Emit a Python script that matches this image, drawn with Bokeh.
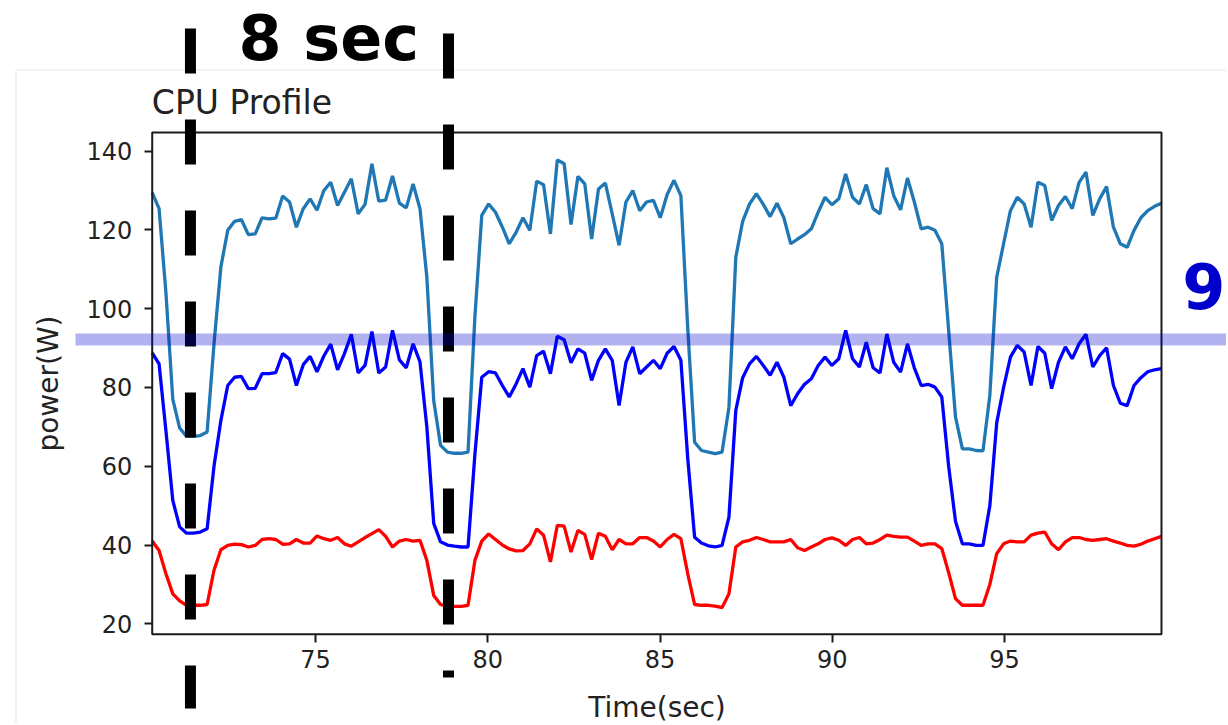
from bokeh.plotting import figure
from bokeh.models import FixedTicker, Label, Arrow, LinearAxis, BoxAnnotation, Range1d
from bokeh.embed import file_html
from bokeh.resources import INLINE

# ---------------- data ----------------
t_start = 70.26
t_step = 0.1993

total_power = [
    129.5, 125.4, 104.0, 77.0, 69.7, 67.6, 67.6, 67.8, 68.7, 91.0,
    110.6, 119.9, 122.2, 122.6, 118.8, 119.0, 123.1, 122.8, 123.0, 128.6,
    127.1, 120.7, 125.4, 127.9, 125.0, 130.0, 132.1, 126.2, 129.6, 133.0,
    124.1, 126.5, 136.8, 127.3, 127.6, 133.7, 126.8, 125.6, 131.7, 125.4,
    108.0, 76.7, 65.3, 63.6, 63.3, 63.3, 63.6, 98.0, 123.7, 126.6,
    124.5, 120.7, 116.5, 119.4, 123.1, 119.9, 132.4, 131.5, 119.0, 137.8,
    136.8, 121.4, 133.6, 131.7, 117.7, 130.4, 131.9, 124.1, 116.1, 127.1,
    130.0, 124.9, 127.1, 127.5, 123.1, 129.0, 132.6, 128.7, 95.0, 66.1,
    64.0, 63.6, 63.2, 63.6, 75.0, 113.1, 122.2, 126.6, 129.2, 126.5,
    123.4, 126.8, 123.1, 116.5, 117.7, 118.8, 120.3, 124.5, 128.3, 126.4,
    127.9, 134.2, 128.3, 126.6, 131.5, 125.4, 124.1, 135.8, 128.7, 125.1,
    133.2, 127.1, 120.3, 120.7, 119.9, 116.5, 94.5, 72.5, 64.4, 64.4,
    64.0, 63.9, 78.0, 108.0, 116.5, 124.9, 128.3, 126.6, 120.7, 132.1,
    131.3, 122.4, 126.2, 128.5, 125.4, 132.1, 134.7, 123.7, 127.9, 131.0,
    120.7, 116.5, 115.6, 119.9, 123.1, 124.9, 126.0, 126.8,
]

cpu_power = [
    88.8, 86.0, 69.0, 51.3, 44.6, 43.0, 43.0, 43.3, 44.1, 60.0,
    71.6, 80.5, 82.6, 82.8, 79.7, 79.8, 83.5, 83.5, 83.8, 88.6,
    87.2, 80.5, 85.8, 87.9, 84.0, 88.0, 91.0, 84.5, 88.6, 93.5,
    83.7, 85.6, 94.2, 83.7, 85.2, 94.5, 87.0, 85.0, 91.1, 86.5,
    70.0, 45.5, 40.8, 40.0, 39.7, 39.5, 39.5, 63.0, 82.6, 84.0,
    83.7, 80.5, 77.6, 80.9, 84.8, 80.1, 88.1, 89.2, 83.5, 93.0,
    92.1, 86.3, 89.8, 88.7, 81.8, 86.9, 89.8, 86.9, 75.4, 86.4,
    90.3, 83.5, 85.2, 86.9, 84.8, 88.7, 90.4, 86.9, 62.0, 42.0,
    40.5, 39.8, 39.5, 39.9, 47.1, 74.2, 82.5, 86.0, 87.9, 85.6,
    83.1, 86.4, 82.6, 75.4, 78.4, 80.8, 82.2, 85.6, 87.7, 85.6,
    87.3, 94.5, 87.3, 85.2, 91.5, 85.0, 83.7, 93.6, 86.4, 83.9,
    91.1, 85.0, 80.5, 80.8, 80.1, 77.6, 60.0, 46.0, 40.3, 40.3,
    39.9, 39.9, 50.0, 71.0, 80.0, 87.7, 90.7, 89.0, 80.5, 90.4,
    88.7, 79.7, 86.4, 90.3, 87.3, 91.1, 93.5, 85.2, 88.1, 90.1,
    80.5, 76.0, 75.4, 80.5, 82.5, 84.0, 84.5, 84.8,
]

other_power = [
    41.0, 38.6, 32.7, 27.6, 25.8, 24.7, 24.7, 24.7, 24.9, 33.6,
    38.8, 39.9, 40.2, 40.1, 39.5, 39.9, 41.4, 41.6, 41.4, 40.2,
    40.3, 41.4, 40.5, 40.5, 42.3, 41.6, 41.2, 41.9, 40.3, 39.7,
    40.8, 41.9, 42.9, 43.9, 42.2, 39.5, 41.0, 41.4, 41.0, 41.2,
    36.1, 27.2, 24.9, 24.4, 24.4, 24.4, 24.7, 36.1, 41.0, 42.8,
    41.4, 40.0, 39.0, 38.5, 38.6, 40.3, 44.1, 42.5, 35.7, 45.0,
    44.8, 38.2, 43.7, 42.7, 36.3, 43.0, 42.2, 38.8, 41.4, 40.3,
    40.3, 41.9, 41.9, 41.0, 39.5, 41.4, 42.7, 41.6, 32.7, 24.9,
    24.7, 24.7, 24.5, 24.1, 27.6, 39.5, 40.8, 41.2, 41.9, 41.4,
    40.8, 40.8, 40.8, 41.4, 39.3, 38.6, 39.5, 40.3, 41.4, 41.8,
    41.2, 39.9, 41.4, 41.9, 40.3, 40.5, 41.4, 42.5, 42.2, 42.0,
    42.0, 41.0, 39.9, 40.3, 40.3, 39.1, 33.0, 26.4, 24.7, 24.7,
    24.7, 24.7, 30.0, 37.8, 40.3, 41.0, 40.8, 40.8, 42.5, 43.0,
    43.3, 40.3, 38.8, 40.8, 41.9, 41.9, 41.4, 41.2, 41.4, 41.6,
    41.0, 40.5, 39.9, 39.7, 40.2, 41.0, 41.6, 42.2,
]

time_sec = [t_start + t_step * i for i in range(len(total_power))]

x_ticks = [75, 80, 85, 90, 95]
y_ticks = [20, 40, 60, 80, 100, 120, 140]

# axes box (data limits)
x_lo, x_hi = 70.26, 99.557
y_lo, y_hi = 17.36, 144.75

# annotation values
window_start = 71.37   # s
window_end = 78.86     # s
threshold_w = 92.2     # W
title_text = "CPU Profile"
window_text = "8 sec"
threshold_text = "9"

FONT = "DejaVu Sans"
TXT = "#222222"
SPINE = "#1a1a1a"

# the canvas itself spans the whole picture; ranges map data onto it
p = figure(width=1226, height=723,
           x_range=Range1d(65.8563, 101.4441), y_range=Range1d(-5.32, 178.265),
           x_axis_type=None, y_axis_type=None, min_border=0,
           output_backend="svg", toolbar_location=None)
p.outline_line_color = None
p.background_fill_color = "white"
p.border_fill_color = "white"
p.xgrid.visible = False
p.ygrid.visible = False

xaxis = LinearAxis(fixed_location=y_lo, bounds=(x_lo, x_hi),
                   ticker=FixedTicker(ticks=x_ticks), axis_label="Time(sec)")
yaxis = LinearAxis(fixed_location=x_lo, bounds=(y_lo, y_hi),
                   ticker=FixedTicker(ticks=y_ticks), axis_label="power(W)")
for ax in (xaxis, yaxis):
    ax.axis_line_color = None
    ax.major_tick_line_color = SPINE
    ax.major_tick_line_width = 2
    ax.major_tick_out = 8
    ax.major_tick_in = 0
    ax.minor_tick_line_color = None
    ax.major_label_text_font = FONT
    ax.major_label_text_font_size = "24px"
    ax.major_label_text_color = TXT
    ax.axis_label_text_font = FONT
    ax.axis_label_text_font_size = "28px"
    ax.axis_label_text_font_style = "normal"
    ax.axis_label_text_color = TXT
xaxis.major_label_standoff = 8
yaxis.major_label_standoff = 12
xaxis.axis_label_standoff = 19
yaxis.axis_label_standoff = 19
p.add_layout(xaxis, "below")
p.add_layout(yaxis, "left")

p.line(time_sec, total_power, line_color="#1f77b4", line_width=3.3)
p.line(time_sec, cpu_power, line_color="#0000ff", line_width=3.3)
p.line(time_sec, other_power, line_color="#ff0000", line_width=3.3)

# axes frame (spines)
p.add_layout(BoxAnnotation(left=x_lo, right=x_hi, bottom=y_lo, top=y_hi,
                           fill_color=None, fill_alpha=0,
                           line_color=SPINE, line_alpha=1.0, line_width=2))

# faint outer border of the original figure
p.add_layout(Arrow(end=None, x_start=66.306, y_start=160.62, x_end=101.444, y_end=160.62,
                   line_color="#e6e6e6", line_width=1))
p.add_layout(Arrow(end=None, x_start=66.306, y_start=160.62, x_end=66.306, y_end=-5.32,
                   line_color="#e6e6e6", line_width=1))

# dashed window markers
p.add_layout(Arrow(end=None, x_start=window_start, y_start=171.155, x_end=window_start, y_end=-1.51,
                   line_color="black", line_width=11, line_dash="45 46"))
p.add_layout(Arrow(end=None, x_start=window_end, y_start=169.89, x_end=window_end, y_end=6.36,
                   line_color="black", line_width=11, line_dash="45 46"))

# threshold band
p.add_layout(Arrow(end=None, x_start=68.033, y_start=threshold_w, x_end=101.444, y_end=threshold_w,
                   line_color="#0000cc", line_alpha=0.3, line_width=12))

p.add_layout(Label(x=70.25, y=152.36, text=title_text, text_font=FONT,
                   text_font_size="33px", text_color=TXT,
                   text_align="left", text_baseline="alphabetic"))
p.add_layout(Label(x=72.765, y=168.6, text=window_text, text_font=FONT,
                   text_font_size="62px", text_font_style="bold", text_color="black",
                   text_align="left", text_baseline="alphabetic"))
p.add_layout(Label(x=101.41, y=105.85, text=threshold_text, text_font=FONT,
                   text_font_size="62px", text_font_style="bold", text_color="#0000cc",
                   text_align="right", text_baseline="alphabetic"))

open("out.html", "w").write(file_html(p, INLINE))
